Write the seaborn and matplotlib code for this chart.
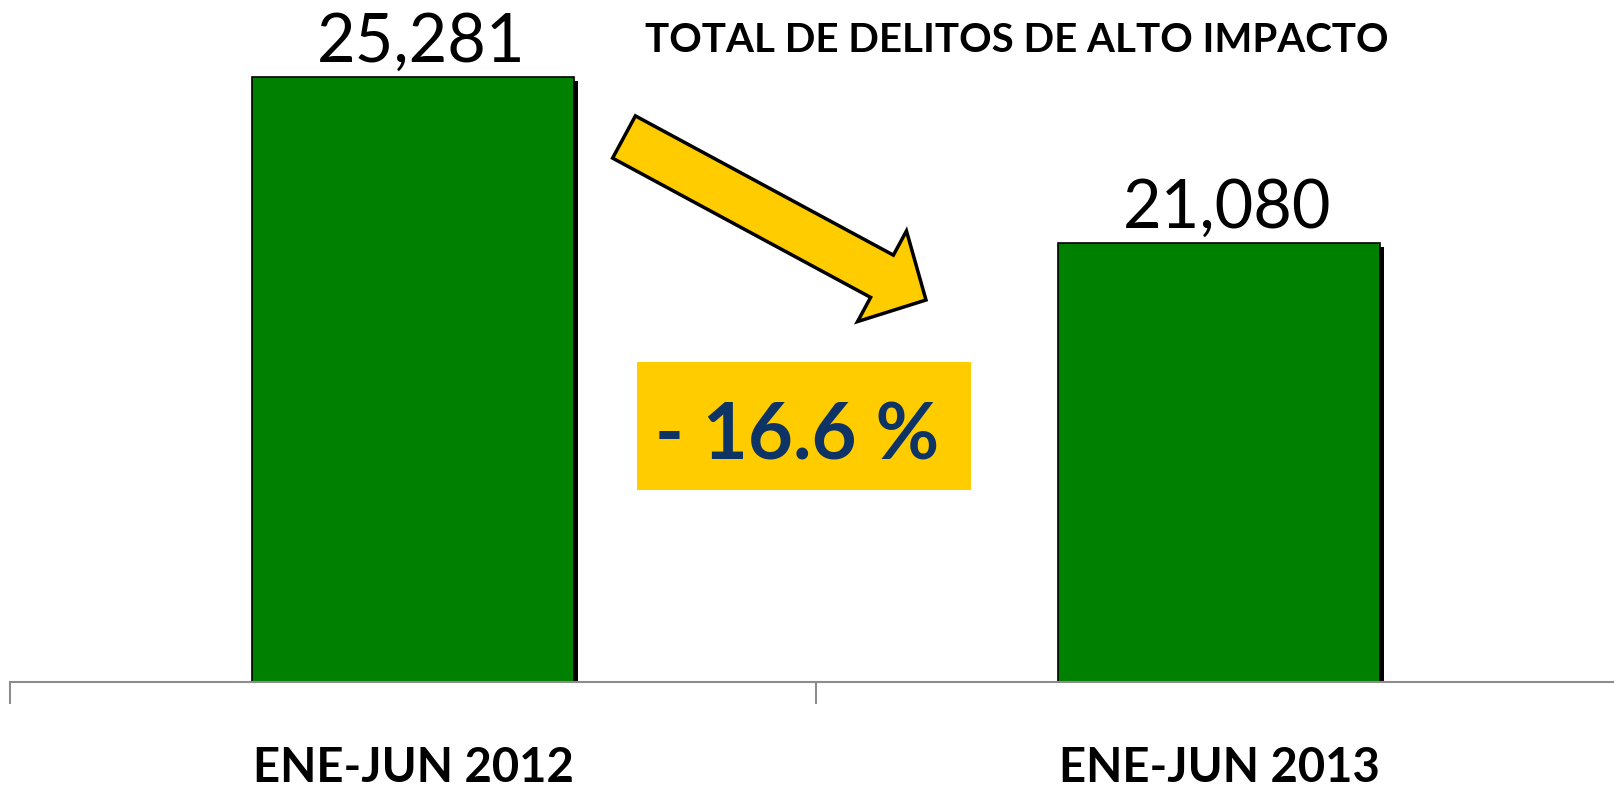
import matplotlib
matplotlib.use('Agg')
import matplotlib.pyplot as plt
import matplotlib.patches as mpatches
import matplotlib.patheffects as pe
from matplotlib.transforms import IdentityTransform
import seaborn as sns
import pandas as pd

# datos
periodos = ['ENE-JUN 2012', 'ENE-JUN 2013']
delitos = [25281, 21080]
variacion = '- 16.6 %'
titulo = 'TOTAL DE DELITOS DE ALTO IMPACTO'

sns.set_theme(style='white')
plt.rcParams['font.family'] = ['Lato', 'DejaVu Sans']

W, H = 1614, 789
fig = plt.figure(figsize=(W / 100, H / 100), dpi=100)
ax = fig.add_axes([10 / W, 107 / H, 1612 / W, 682 / H])

df = pd.DataFrame({'periodo': periodos, 'delitos': delitos})
sns.barplot(data=df, x='periodo', y='delitos', color='#008000', saturation=1,
            width=0.4, edgecolor='black', linewidth=1.2, ax=ax)
for bar in ax.patches:
    bar.set_path_effects([pe.SimplePatchShadow(offset=(3, -2.5), shadow_rgbFace='black', alpha=1),
                          pe.Normal()])

ax.set_ylim(10000, 27230)
ax.set_xlim(-0.5, 1.5)

# etiquetas de valor
for i, v in enumerate(delitos):
    ax.annotate(f'{v:,}', xy=(i, v), xytext=(6, 11), textcoords='offset points',
                ha='center', va='baseline', fontsize=48, color='black')

for s in ['left', 'top', 'right']:
    ax.spines[s].set_visible(False)
ax.spines['bottom'].set_color('#8C8C8C')
ax.spines['bottom'].set_linewidth(1.5)

ax.set_yticks([])
ax.set_xticks([0, 1])
ax.set_xticklabels(periodos, fontsize=34, fontweight='bold', color='black')
ax.tick_params(axis='x', which='major', length=0, pad=46)
ax.set_xticks([-0.5, 0.5, 1.5], minor=True)
ax.tick_params(axis='x', which='minor', bottom=True, length=16, width=1.5,
               color='#8C8C8C', direction='out')
ax.set_xlabel('')
ax.set_ylabel('')

fig.text(1017 / W, 1 - 41 / H, titulo, ha='center', va='center',
         fontsize=29, fontweight='bold', color='black')

# flecha
flecha = mpatches.FancyArrow(624, H - 137, 302, -163, width=48, head_width=103,
                             head_length=50, length_includes_head=True,
                             transform=IdentityTransform(), fc='#FFCC00',
                             ec='black', lw=2.5)
fig.add_artist(flecha)

# caja de variacion
caja = mpatches.Rectangle((637, H - 490), 334, 128, transform=IdentityTransform(),
                          fc='#FFCC00', ec='none')
fig.add_artist(caja)
fig.text(655 / W, (H - 460) / H, variacion, ha='left', va='baseline',
         fontsize=56, fontweight='bold', color='#0E3466')

fig.savefig('out.png', dpi=100)
